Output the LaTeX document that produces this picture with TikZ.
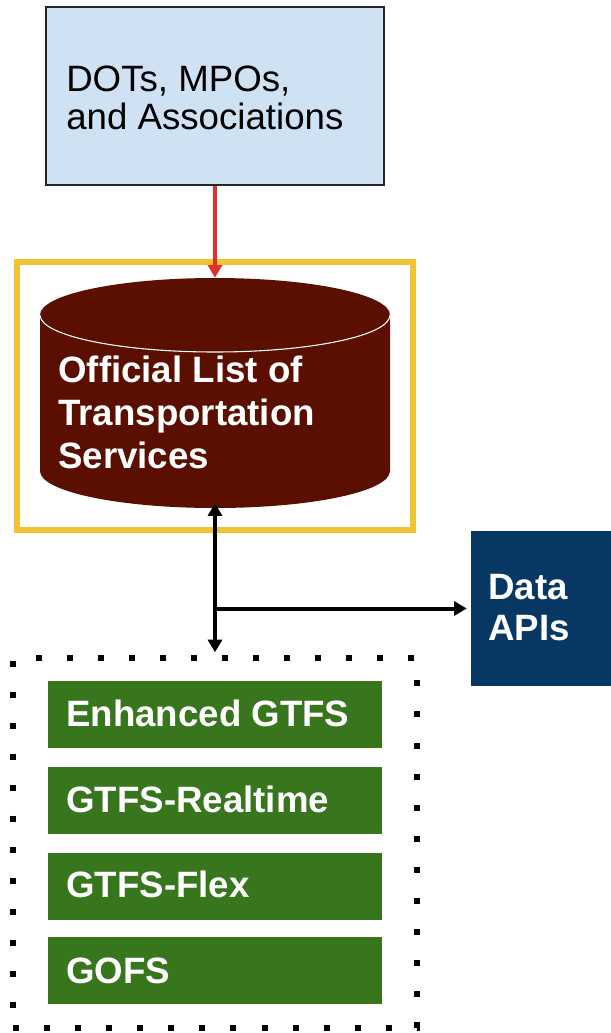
\documentclass[tikz,border=0pt]{standalone}
\usepackage{fontspec}
\setmainfont{Liberation Sans}
\usetikzlibrary{arrows.meta,fit,calc,shadows}
\definecolor{srcblue}{HTML}{CFE2F3}
\definecolor{linkred}{HTML}{E03028}
\definecolor{framegold}{HTML}{F1C232}
\definecolor{dbred}{HTML}{5B0F00}
\definecolor{apinavy}{HTML}{073763}
\definecolor{feedgreen}{HTML}{38761D}
\begin{document}
\begin{tikzpicture}[x=0.75pt,y=-0.75pt,
  lbl/.style={anchor=base west, inner sep=0pt, font=\fontsize{27.5}{32}\selectfont},
  blbl/.style={anchor=base west, inner sep=0pt, text=white,
    font=\fontsize{27.5}{32}\selectfont\bfseries},
  feedbox/.style={fill=feedgreen, inner sep=0pt},
  tipA/.style={-{Triangle[length=9.5pt,width=10.5pt]}},
  tipAB/.style={{Triangle[length=9.5pt,width=10.5pt]}-{Triangle[length=9.5pt,width=10.5pt]}},
]
% canvas
\fill[white] (0,0) rectangle (611,1033);
\useasboundingbox (0,0) rectangle (611,1033);

% source agencies
\node (src) [fit={(46,7)(384,185)}, inner sep=0pt, fill=srcblue,
  draw=black!85, line width=1.5pt] {};
\node (src1) [lbl] at (66,91) {DOTs, MPOs,};
\node (src2) [lbl] at (66,129) {and Associations};

% highlighted database frame
\node (frame) [fit={(17,262)(413,530)}, inner sep=0pt, fill=white,
  draw=framegold, line width=4.2pt,
  drop shadow={shadow xshift=1.5pt, shadow yshift=-1.5pt, opacity=0.15}] {};

% database cylinder
\fill[dbred] (40,315) -- (40,471)
  arc[start angle=180, end angle=0, x radius=175, y radius=37]
  -- (390,315) -- cycle;
\fill[dbred] (215,315) ellipse [x radius=175, y radius=37];
\draw[white, line width=0.8pt] (40,315)
  arc[start angle=180, end angle=0, x radius=175, y radius=37];
\node (ols) [fit={(40,278)(390,508)}, inner sep=0pt] {};
\node (ols1) [blbl] at (58,382) {Official List of};
\node (ols2) [blbl] at (58,425) {Transportation};
\node (ols3) [blbl] at (58,468) {Services};

% data APIs
\node (apis) [fit={(471,531)(611,686)}, inner sep=0pt, fill=apinavy] {};
\node (apis1) [blbl] at (488,599) {Data};
\node (apis2) [blbl] at (488,640) {APIs};

% feed specifications
\node (feeds) [fit={(13,658)(417,1028)}, inner sep=0pt, draw=black,
  line width=4.5pt, dash pattern=on 4.5pt off 18.8pt] {};
\node (f1) [feedbox, fit={(48,681)(382,748)}] {};
\node (f2) [feedbox, fit={(48,767)(382,834)}] {};
\node (f3) [feedbox, fit={(48,853)(382,920)}] {};
\node (f4) [feedbox, fit={(48,937)(382,1004)}] {};
\node (f1t) [blbl] at (66,726) {Enhanced GTFS};
\node (f2t) [blbl] at (66,812) {GTFS-Realtime};
\node (f3t) [blbl] at (66,897) {GTFS-Flex};
\node (f4t) [blbl] at (66,983) {GOFS};

% connectors
\draw[tipA, linkred, line width=3.2pt] (src.south -| ols.north) -- (ols.north);
\coordinate (jn) at (ols.south |- apis.west);
\draw[tipAB, black, line width=3pt, shorten <=-3.75pt, shorten >=2pt]
  (ols.south) -- (ols.south |- feeds.north);
\draw[tipA, black, line width=3pt, shorten >=3pt] (jn) -- (apis.west);
\end{tikzpicture}
\end{document}
